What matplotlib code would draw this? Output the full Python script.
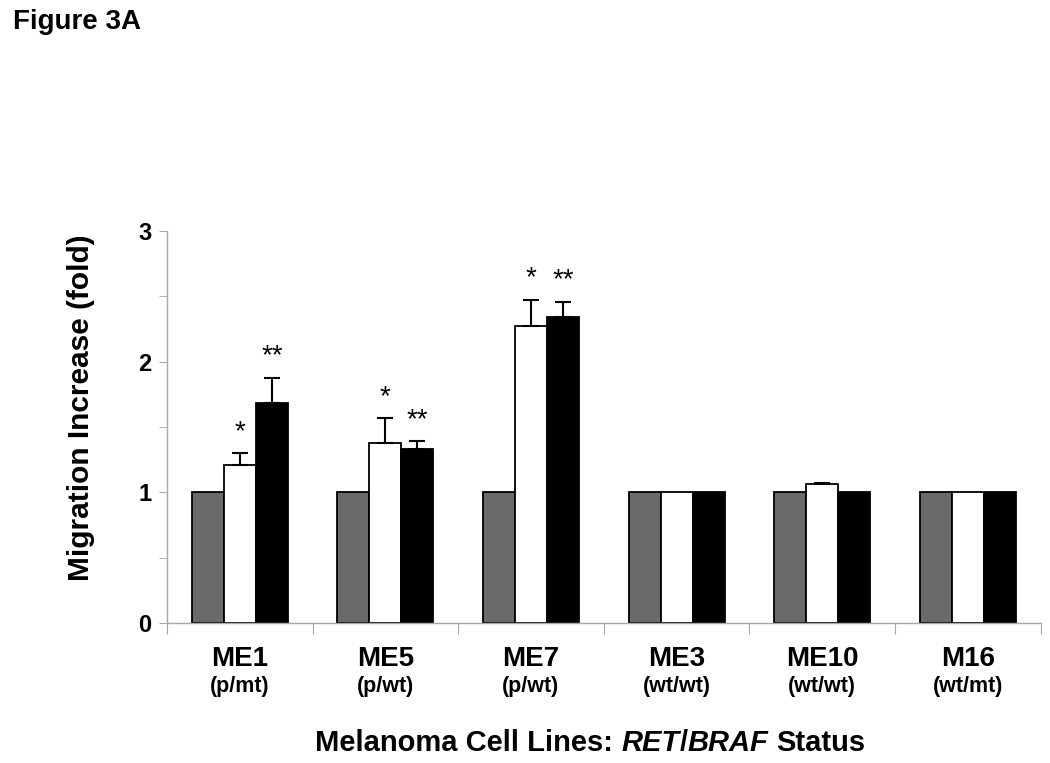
import numpy as np
import matplotlib.pyplot as plt

plt.rcParams['font.family'] = ['Liberation Sans', 'DejaVu Sans']

cell_lines = ['ME1', 'ME5', 'ME7', 'ME3', 'ME10', 'M16']
status = ['(p/mt)', '(p/wt)', '(p/wt)', '(wt/wt)', '(wt/wt)', '(wt/mt)']

control = [1.0, 1.0, 1.0, 1.0, 1.0, 1.0]
treat_a = [1.21, 1.375, 2.275, 1.0, 1.06, 1.0]
treat_a_err = [0.09, 0.19, 0.20, 0.0, 0.015, 0.0]
treat_b = [1.68, 1.33, 2.34, 1.0, 1.0, 1.0]
treat_b_err = [0.195, 0.06, 0.12, 0.0, 0.0, 0.0]
stars_a = ['*', '*', '*', '', '', '']
stars_b = ['**', '**', '**', '', '', '']

fig = plt.figure(figsize=(10.5, 7.63), dpi=100)
ax = fig.add_axes([0.159, 0.1835, 0.832, 0.5138])

x = np.arange(len(cell_lines)) + 0.5
w = 0.22
ax.bar(x - w, control, w, color='#6a6a6a', edgecolor='black', linewidth=1.3, zorder=2)
ax.bar(x, treat_a, w, color='white', edgecolor='black', linewidth=1.3, zorder=2)
ax.bar(x + w, treat_b, w, color='black', edgecolor='black', linewidth=1.3, zorder=2)

# error bars only upward, skip the zero ones
for xs, vals, errs, stars in [(x, treat_a, treat_a_err, stars_a), (x + w, treat_b, treat_b_err, stars_b)]:
    for xi, v, e, s in zip(xs, vals, errs, stars):
        if e > 0:
            ax.errorbar(xi, v, yerr=[[0], [e]], fmt='none', ecolor='black',
                        elinewidth=1.5, capsize=5.5, capthick=1.5, zorder=3)
        if s:
            ax.text(xi, v + e + 0.11, s, ha='center', va='baseline', fontsize=20, zorder=4)

ax.set_xlim(0, len(cell_lines))
ax.set_ylim(0, 3)
ax.set_yticks([0, 1, 2, 3])
ax.set_yticks([0.5, 1.5, 2.5], minor=True)
ax.set_yticklabels(['0', '1', '2', '3'], fontsize=17, fontweight='bold')
ax.set_xticks(np.arange(len(cell_lines) + 1))
ax.set_xticklabels([])
ax.tick_params(axis='y', which='both', direction='out', length=6, color='#a8a8a8', pad=5)
ax.tick_params(axis='x', direction='out', length=8, color='#a8a8a8')

for side in ['top', 'right']:
    ax.spines[side].set_visible(False)
for side in ['left', 'bottom']:
    ax.spines[side].set_color('#a8a8a8')
    ax.spines[side].set_linewidth(1.0)

tr = ax.get_xaxis_transform()
for xi, name, st in zip(x, cell_lines, status):
    ax.text(xi, -0.11, name, transform=tr, ha='center', va='baseline', fontsize=20, fontweight='bold')
    ax.text(xi, -0.175, st, transform=tr, ha='center', va='baseline', fontsize=15.5, fontweight='bold')

ax.set_ylabel('Migration Increase (fold)', fontsize=21.5, fontweight='bold')
ax.yaxis.set_label_coords(-0.082, 0.55)

fig.text(0.012, 0.962, 'Figure 3A', fontsize=20, fontweight='bold', va='baseline')

# x label with italic gene names, pieces chained left to right
pieces = [('Melanoma Cell Lines:', 'normal', 0), ('RET', 'italic', 6), ('/', 'normal', 0),
          ('BRAF', 'italic', 0), ('Status', 'normal', 6)]
prev = fig.text(315 / 1050, 0.008, pieces[0][0], fontsize=21, fontweight='bold', va='bottom', ha='left')
for txt, style, gap in pieces[1:]:
    prev = ax.annotate(txt, xy=(1, 0), xycoords=prev, xytext=(gap, 0), textcoords='offset points',
                       fontsize=21, fontweight='bold', fontstyle=style, va='bottom', ha='left',
                       annotation_clip=False)

fig.savefig('out.png', dpi=100)
